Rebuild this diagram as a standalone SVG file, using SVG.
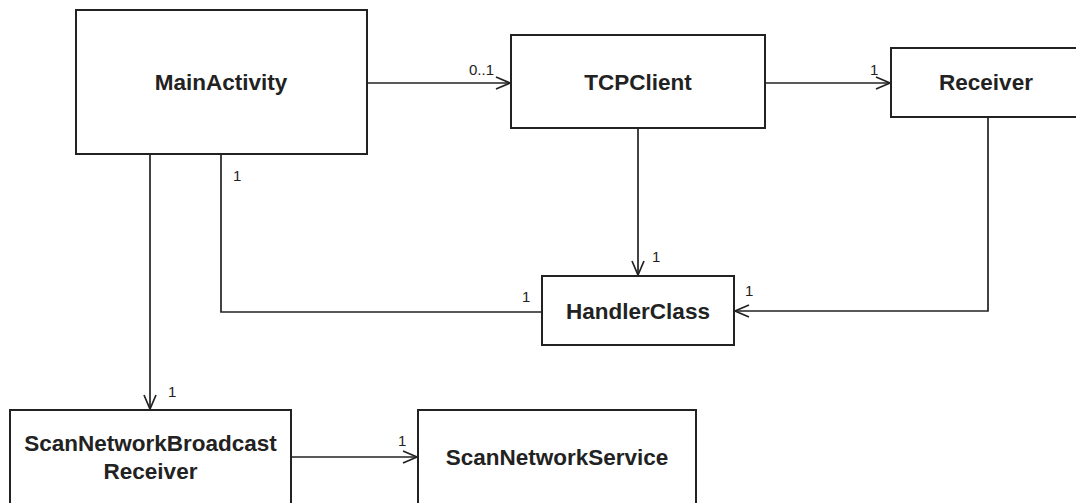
<svg xmlns="http://www.w3.org/2000/svg" width="1076" height="503" viewBox="0 0 1076 503">
<style>
.box{fill:#fff;stroke:#222;stroke-width:2}
.name{font-family:"Liberation Sans",Arial,sans-serif;font-weight:bold;font-size:22.5px;fill:#222;text-anchor:middle}
.mult{font-family:"Liberation Sans",Arial,sans-serif;font-size:15px;fill:#222}
.edge{fill:none;stroke:#222;stroke-width:1.7}
</style>
<defs>
<marker id="open" viewBox="0 0 16 14" refX="15" refY="7" markerWidth="16" markerHeight="14" markerUnits="userSpaceOnUse" orient="auto">
<path d="M1,1 L15,7 L1,13" fill="none" stroke="#222" stroke-width="1.7"/>
</marker>
</defs>
<rect width="1076" height="503" fill="#fff"/>
<g id="connectors">
<path class="edge" d="M367,83 H510" marker-end="url(#open)"/>
<path class="edge" d="M765,83 H890" marker-end="url(#open)"/>
<path class="edge" d="M638,128 V275" marker-end="url(#open)"/>
<path class="edge" d="M988,117 V311 H735" marker-end="url(#open)"/>
<path class="edge" d="M221,154 V312 H542"/>
<path class="edge" d="M150,154 V409" marker-end="url(#open)"/>
<path class="edge" d="M291,457 H417" marker-end="url(#open)"/>
<text class="mult" x="469" y="75">0..1</text>
<text class="mult" x="870" y="75">1</text>
<text class="mult" x="233" y="181">1</text>
<text class="mult" x="652" y="262">1</text>
<text class="mult" x="522" y="302">1</text>
<text class="mult" x="745" y="296">1</text>
<text class="mult" x="168" y="397">1</text>
<text class="mult" x="398" y="446">1</text>
</g>
<g id="MainActivity">
<rect class="box" x="76" y="10" width="291" height="144"/>
<text class="name" x="221" y="90">MainActivity</text>
</g>
<g id="TCPClient">
<rect class="box" x="511" y="35" width="254" height="93"/>
<text class="name" x="638" y="90">TCPClient</text>
</g>
<g id="Receiver">
<rect class="box" x="891" y="48" width="192" height="69"/>
<text class="name" x="986" y="90">Receiver</text>
</g>
<g id="HandlerClass">
<rect class="box" x="542" y="276" width="192" height="69"/>
<text class="name" x="638" y="319">HandlerClass</text>
</g>
<g id="ScanNetworkBroadcastReceiver">
<rect class="box" x="10" y="410" width="281" height="96"/>
<text class="name" x="150.5" y="451">ScanNetworkBroadcast</text>
<text class="name" x="150.5" y="479">Receiver</text>
</g>
<g id="ScanNetworkService">
<rect class="box" x="418" y="410" width="278" height="96"/>
<text class="name" x="557" y="465">ScanNetworkService</text>
</g>
</svg>
